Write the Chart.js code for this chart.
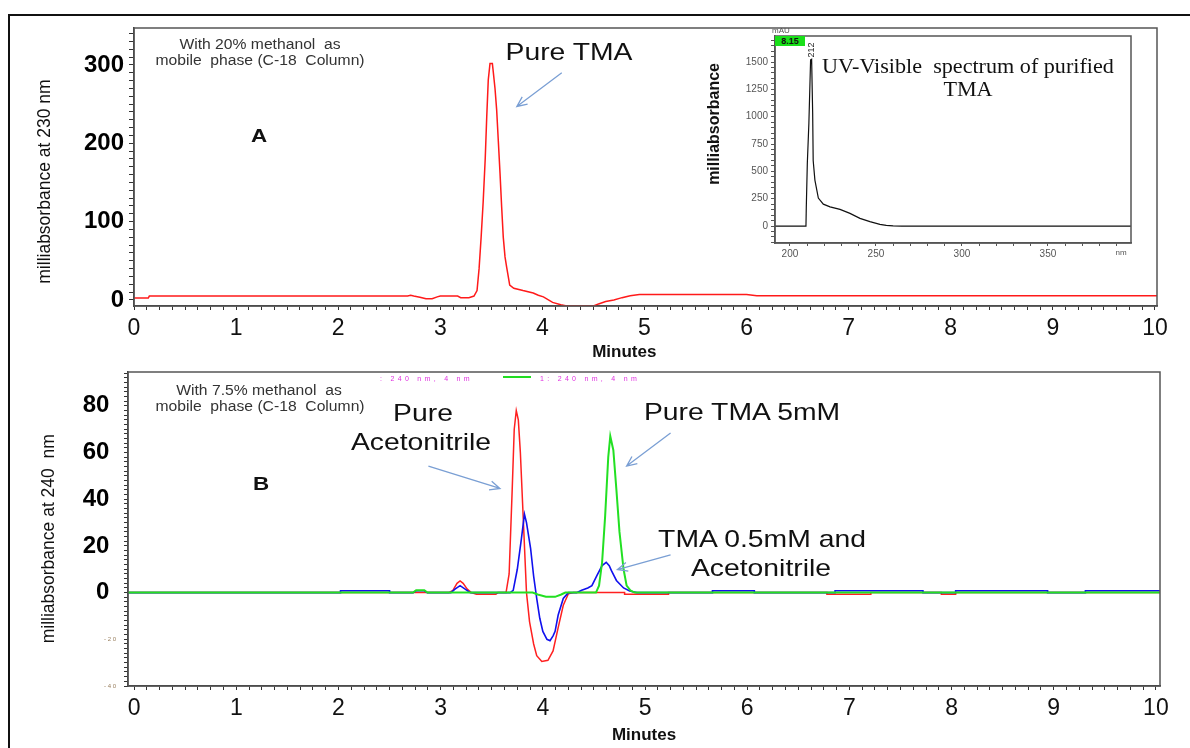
<!DOCTYPE html>
<html>
<head>
<meta charset="utf-8">
<script src="https://cdn.jsdelivr.net/npm/chart.js@4.4.1/dist/chart.umd.min.js"></script>
<style>
html, body { margin: 0; padding: 0; background: #fff; }
#page { position: relative; width: 1190px; height: 748px; overflow: hidden; font-family: "Liberation Sans", Arial, sans-serif; }
.box { position: absolute; }
.frame { position: absolute; left: 8px; top: 14px; width: 1200px; height: 800px; border-left: 2px solid #111; border-top: 2px solid #111; }
.t { position: absolute; white-space: pre; line-height: 1; color: #111; transform: translate(-50%, -50%) scaleX(1.18); }
.note { font-size: 14px; color: #333; transform: translate(-50%, -50%) scaleX(1.12); }
.lbl { font-size: 24px; }
.big { font-size: 19px; font-weight: bold; }
.serif { font-family: "Liberation Serif", "DejaVu Serif", serif; font-size: 20.5px; transform: translate(-50%, -50%) scaleX(1.08); }
.tiny { font-size: 8px; color: #555; transform: translate(-50%, -50%); }
.mag { position: absolute; white-space: pre; font-size: 7px; letter-spacing: 3.3px; color: #e030e0; line-height: 1; }
</style>
</head>
<body>
<div id="page">
  <div class="frame"></div>
  <div class="box" style="left:0;top:0"><canvas id="chartA" width="1190" height="370"></canvas></div>
  <div class="box" style="left:0;top:360px"><canvas id="chartB" width="1190" height="388"></canvas></div>
  <div class="box" style="left:690px;top:22px"><canvas id="inset" width="460" height="245"></canvas></div>

  <!-- panel A notes -->
  <div class="t note" style="left:260px;top:43.5px">With 20% methanol  as</div>
  <div class="t note" style="left:260px;top:60px">mobile  phase (C-18  Column)</div>
  <div class="t big" style="left:259px;top:135px">A</div>
  <div class="t lbl" style="left:569px;top:52px">Pure TMA</div>

  <!-- inset notes -->
  <div class="t serif" style="left:968px;top:66px">UV-Visible  spectrum of purified</div>
  <div class="t serif" style="left:968px;top:89px">TMA</div>
  <div class="t tiny" style="left:781px;top:31px">mAU</div>
  <div class="box" style="left:775px;top:36px;width:30px;height:10px;background:#19e019;font-size:9px;font-weight:bold;line-height:10px;text-align:center;color:#111">8.15</div>
  <div class="t tiny" style="left:811px;top:50px;color:#222;font-size:9px;transform:translate(-50%,-50%) rotate(-90deg)">212</div>
  <div class="t tiny" style="left:1121px;top:253px">nm</div>

  <!-- panel B notes -->
  <div class="mag" style="left:380px;top:375px">: 240 nm, 4 nm</div>
  <div class="box" style="left:503px;top:376px;width:28px;height:2px;background:#22dd22"></div>
  <div class="mag" style="left:540px;top:375px">1: 240 nm, 4 nm</div>
  <div class="t note" style="left:259px;top:390px">With 7.5% methanol  as</div>
  <div class="t note" style="left:260px;top:406px">mobile  phase (C-18  Column)</div>
  <div class="t big" style="left:260.5px;top:482.5px">B</div>
  <div class="t lbl" style="left:423px;top:413px">Pure</div>
  <div class="t lbl" style="left:421px;top:441.5px">Acetonitrile</div>
  <div class="t lbl" style="left:742px;top:411.7px">Pure TMA 5mM</div>
  <div class="t lbl" style="left:762px;top:539px">TMA 0.5mM and</div>
  <div class="t lbl" style="left:761px;top:568px">Acetonitrile</div>
</div>

<script>
// ---- panel A: 20% methanol, 230 nm (minutes / mAU) ----
var aTime   = [0, 0.14, 0.15, 2.68, 2.71, 2.74, 2.80, 2.86, 2.92, 2.97, 3.00, 3.17, 3.20, 3.28, 3.33, 3.36, 3.38, 3.40, 3.42, 3.44, 3.455, 3.47, 3.487, 3.51, 3.52, 3.536, 3.552, 3.568, 3.585, 3.601, 3.617, 3.634, 3.65, 3.68, 3.72, 3.81, 3.91, 3.96, 4.01, 4.10, 4.18, 4.24, 4.50, 4.55, 4.62, 4.70, 4.78, 4.86, 4.95, 6.00, 6.10, 10.02];
var aSignal = [2.5, 2.5, 5, 5, 6, 5, 3.5, 1.5, 1.5, 4, 5, 5, 3, 3, 5, 12, 40, 80, 125, 180, 234, 281, 302, 302, 290, 270, 243, 204, 162, 119, 80, 55, 42, 19, 15, 12, 9, 6, 4, -3, -6, -7.7, -7.7, -5, -2, 0, 3, 5.5, 7, 7, 5.5, 5.5];

// ---- panel B: 7.5% methanol, 240 nm ----
var bRedTime = [-0.06, 3.08, 3.12, 3.16, 3.19, 3.22, 3.26, 3.30, 3.35, 3.54, 3.56, 3.64, 3.67, 3.70, 3.72, 3.74, 3.76, 3.78, 3.81, 3.84, 3.87, 3.91, 3.94, 3.99, 4.05, 4.10, 4.15, 4.20, 4.25, 4.30, 4.80, 4.80, 5.23, 5.23, 6.78, 6.78, 7.21, 7.21, 7.90, 7.90, 8.04, 8.04, 10.04];
var bRed     = [0, 0, 1, 4, 5, 4, 1.5, 0, -0.7, -0.7, 0, 0, 8, 44, 70, 78, 74, 60, 30, 0, -12.5, -22, -27, -29.5, -29, -25, -15, -5.4, -0.5, 0, 0, -0.7, -0.7, 0, 0, -0.7, -0.7, 0, 0, -0.7, -0.7, 0, 0];

var bBlueTime = [-0.06, 2.02, 2.02, 2.50, 2.50, 2.73, 2.76, 2.84, 2.87, 3.10, 3.14, 3.19, 3.24, 3.29, 3.68, 3.71, 3.75, 3.79, 3.82, 3.84, 3.88, 3.91, 3.94, 3.97, 4.00, 4.04, 4.07, 4.10, 4.12, 4.15, 4.20, 4.25, 4.33, 4.38, 4.44, 4.48, 4.53, 4.58, 4.62, 4.65, 4.67, 4.72, 4.79, 4.85, 4.92, 5.66, 5.66, 6.07, 6.07, 6.86, 6.86, 7.72, 7.72, 8.04, 8.04, 8.94, 8.94, 9.31, 9.31, 10.04];
var bBlue     = [0, 0, 0.8, 0.8, 0, 0, 0.8, 0.8, 0, 0, 1.5, 3, 1.5, 0, 0, 1, 10, 23, 33.6, 30, 19, 7, -2.5, -11, -16.6, -20, -20.6, -18.5, -16.6, -9.6, -2.5, 0, 0, 1, 2, 3, 7.4, 11.6, 13, 11.5, 9.5, 5.2, 2, 0.7, 0, 0, 0.8, 0.8, 0, 0, 0.8, 0.8, 0, 0, 0.8, 0.8, 0, 0, 0.8, 0.8];

var bGreenTime = [-0.06, 2.73, 2.76, 2.84, 2.87, 3.90, 3.95, 4.03, 4.12, 4.18, 4.22, 4.52, 4.55, 4.58, 4.61, 4.64, 4.66, 4.69, 4.72, 4.75, 4.79, 4.82, 4.86, 4.90, 10.04];
var bGreen     = [0, 0, 1, 1, 0, 0, -0.8, -1.8, -1.8, -0.8, 0, 0, 3, 13, 33, 58, 67, 61, 44, 26, 10, 3, 0.8, 0, 0];

// ---- inset: UV-Visible spectrum (nm / mAU) ----
var uvNm  = [191.3, 209.3, 209.5, 210.1, 211.0, 212.0, 212.6, 213.2, 213.5, 214.5, 216.5, 219.4, 223.3, 229.1, 234.9, 240.7, 246.5, 252.3, 256, 260, 265, 398.3];
var uvAbs = [0, 0, 177, 576, 940, 1520, 1525, 1033, 600, 420, 256, 200, 176, 152, 116, 70, 40, 15, 7, 2, 0, 0];

// tick labels
var xTickLabels   = [0, 1, 2, 3, 4, 5, 6, 7, 8, 9, 10];
var aYTickLabels  = [0, 100, 200, 300];
var bYTickLabels  = [0, 20, 40, 60, 80];
var bYSmallLabels = [-20, -40];
var uvYTickLabels = [0, 250, 500, 750, 1000, 1250, 1500];
var uvXTickLabels = [200, 250, 300, 350];

// annotation arrows [x from, y from, x to, y to] in data units
var arrowsA = [[4.19, 290, 3.75, 247]];
var arrowsB = [[2.88, 54.2, 3.58, 44.6], [5.25, 68.4, 4.82, 54.2], [5.25, 16.2, 4.73, 9.9]];

var FONT = "'Liberation Sans', Arial, sans-serif";

function pts(xs, ys) {
    return xs.map(function (x, i) { return {x: x, y: ys[i]}; });
}
function trace(data, color, width) {
    return {data: data, borderColor: color, borderWidth: width, pointRadius: 0, tension: 0, fill: false};
}
function tickList(from, to, step) {
    var out = [];
    for (var v = from; v <= to + 1e-9; v += step) out.push({value: Math.round(v * 1000) / 1000});
    return out;
}

// box round the plot area
var framePlugin = {
    id: 'frame',
    afterDraw: function (chart) {
        var a = chart.chartArea, ctx = chart.ctx;
        ctx.save();
        ctx.strokeStyle = '#555';
        ctx.lineWidth = 1.5;
        ctx.strokeRect(a.left, a.top, a.right - a.left, a.bottom - a.top);
        ctx.restore();
    }
};

// light blue pointer arrows
var arrowPlugin = {
    id: 'arrows',
    afterDatasetsDraw: function (chart, args, opts) {
        var xs = chart.scales.x, ys = chart.scales.y, ctx = chart.ctx;
        ctx.save();
        ctx.strokeStyle = '#7a9fd4';
        ctx.lineWidth = 1.3;
        (opts.items || []).forEach(function (a) {
            var x1 = xs.getPixelForValue(a[0]), y1 = ys.getPixelForValue(a[1]);
            var x2 = xs.getPixelForValue(a[2]), y2 = ys.getPixelForValue(a[3]);
            var ang = Math.atan2(y2 - y1, x2 - x1), L = 11, w = 0.42;
            ctx.beginPath();
            ctx.moveTo(x1, y1);
            ctx.lineTo(x2, y2);
            ctx.moveTo(x2 - L * Math.cos(ang - w), y2 - L * Math.sin(ang - w));
            ctx.lineTo(x2, y2);
            ctx.lineTo(x2 - L * Math.cos(ang + w), y2 - L * Math.sin(ang + w));
            ctx.stroke();
        });
        ctx.restore();
    }
};

function minutesAxis(min, max, height, title, titlePad) {
    return {
        type: 'linear', min: min, max: max,
        border: {color: '#333', width: 1.5},
        grid: {drawOnChartArea: false, tickLength: 4, color: '#333'},
        afterBuildTicks: function (s) { s.ticks = tickList(0, 10, 0.125); },
        afterFit: function (s) { s.height = height; s.paddingLeft = 0; s.paddingRight = 0; },
        ticks: {
            autoSkip: false, maxRotation: 0, minRotation: 0, padding: 5, color: '#111',
            font: {family: FONT, size: 23},
            callback: function (v) { return xTickLabels.indexOf(v) >= 0 ? String(v) : ''; }
        },
        title: {display: true, text: title, color: '#111', font: {family: FONT, size: 17, weight: 'bold'}, padding: {top: 0, bottom: titlePad}}
    };
}

var baseOpts = {
    responsive: false, animation: false, devicePixelRatio: 1, events: [],
    plugins: {legend: {display: false}, tooltip: {enabled: false}}
};

// ---------- chart A ----------
new Chart(document.getElementById('chartA').getContext('2d'), {
    type: 'line',
    data: {datasets: [trace(pts(aTime, aSignal), '#ff1a1a', 1.5)]},
    options: Object.assign({}, baseOpts, {
        layout: {autoPadding: false, padding: {top: 28, right: 33, left: 0, bottom: 0}},
        plugins: {legend: {display: false}, tooltip: {enabled: false}, arrows: {items: arrowsA}},
        scales: {
            x: minutesAxis(0, 10.02, 64, 'Minutes         ', 7.8),
            y: {
                type: 'linear', min: -7.66, max: 347.2,
                border: {color: '#333', width: 1.5},
                grid: {drawOnChartArea: false, tickLength: 5, color: '#333'},
                afterBuildTicks: function (s) { s.ticks = tickList(0, 340, 10); },
                afterFit: function (s) { s.width = 134; s.paddingTop = 0; s.paddingBottom = 0; },
                ticks: {
                    autoSkip: false, padding: 5, color: '#000',
                    font: {family: FONT, size: 24, weight: 'bold'},
                    callback: function (v) { return aYTickLabels.indexOf(v) >= 0 ? String(v) : ''; }
                },
                title: {display: true, text: 'milliabsorbance at 230 nm      ', color: '#111', font: {family: FONT, size: 17.5}, padding: {top: 34.5, bottom: 0}}
            }
        }
    }),
    plugins: [framePlugin, arrowPlugin]
});

// ---------- chart B ----------
new Chart(document.getElementById('chartB').getContext('2d'), {
    type: 'line',
    data: {datasets: [
        trace(pts(bGreenTime, bGreen), '#22e022', 2),
        trace(pts(bBlueTime, bBlue), '#1010ee', 1.6),
        trace(pts(bRedTime, bRed), '#ff2020', 1.5)
    ]},
    options: Object.assign({}, baseOpts, {
        layout: {autoPadding: false, padding: {top: 12, right: 30, left: 0, bottom: 0}},
        plugins: {legend: {display: false}, tooltip: {enabled: false}, arrows: {items: arrowsB}},
        scales: {
            x: minutesAxis(-0.06, 10.04, 62, 'Minutes', 2.8),
            y: {
                type: 'linear', min: -40, max: 94.5,
                border: {color: '#333', width: 1.5},
                grid: {drawOnChartArea: false, tickLength: 4, color: '#333'},
                afterBuildTicks: function (s) { s.ticks = tickList(-40, 94, 2); },
                afterFit: function (s) { s.width = 128; s.paddingTop = 0; s.paddingBottom = 0; },
                ticks: {
                    autoSkip: false, padding: 8,
                    color: function (c) { return c.tick && c.tick.value < 0 ? '#9a8060' : '#000'; },
                    font: function (c) {
                        return (c.tick && c.tick.value < 0) ? {family: FONT, size: 6} : {family: FONT, size: 24, weight: 'bold'};
                    },
                    callback: function (v) {
                        if (bYTickLabels.indexOf(v) >= 0) return v + ' ';
                        if (bYSmallLabels.indexOf(v) >= 0) return String(v).split('').join(' ');
                        return '';
                    }
                },
                title: {display: true, text: 'milliabsorbance at 240  nm    ', color: '#111', font: {family: FONT, size: 17.5}, padding: {top: 39, bottom: 0}}
            }
        }
    }),
    plugins: [framePlugin, arrowPlugin]
});

// ---------- inset spectrum ----------
new Chart(document.getElementById('inset').getContext('2d'), {
    type: 'line',
    data: {datasets: [trace(pts(uvNm, uvAbs), '#111', 1.2)]},
    options: Object.assign({}, baseOpts, {
        layout: {autoPadding: false, padding: {top: 14, right: 19, left: 0, bottom: 0}},
        scales: {
            x: {
                type: 'linear', min: 191.3, max: 398.3,
                border: {color: '#555', width: 1.5},
                grid: {drawOnChartArea: false, tickLength: 3, color: '#555'},
                afterBuildTicks: function (s) { s.ticks = tickList(200, 390, 10); },
                afterFit: function (s) { s.height = 24; s.paddingLeft = 0; s.paddingRight = 0; },
                ticks: {
                    autoSkip: false, maxRotation: 0, minRotation: 0, padding: 2, color: '#555',
                    font: {family: FONT, size: 10},
                    callback: function (v) { return uvXTickLabels.indexOf(v) >= 0 ? String(v) : ''; }
                }
            },
            y: {
                type: 'linear', min: -155, max: 1738,
                border: {color: '#555', width: 1.5},
                grid: {drawOnChartArea: false, tickLength: 4, color: '#555'},
                afterBuildTicks: function (s) { s.ticks = tickList(-150, 1700, 50); },
                afterFit: function (s) { s.width = 85; s.paddingTop = 0; s.paddingBottom = 0; },
                ticks: {
                    autoSkip: false, padding: 3, color: '#555',
                    font: {family: FONT, size: 10},
                    callback: function (v) { return uvYTickLabels.indexOf(v) >= 0 ? String(v) : ''; }
                },
                title: {display: true, text: '       milliabsorbance', color: '#111', font: {family: FONT, size: 16, weight: 'bold'}, padding: {top: 15.4, bottom: 0}}
            }
        }
    }),
    plugins: [framePlugin]
});
</script>
</body>
</html>
